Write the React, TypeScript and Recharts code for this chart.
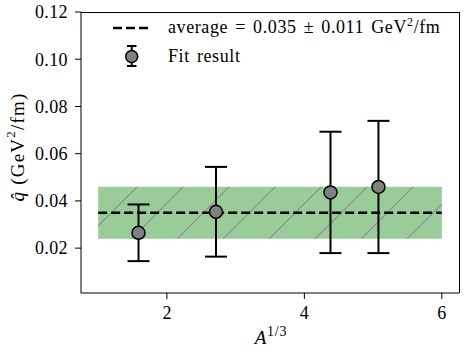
import React from "react";
import {
  ComposedChart,
  Scatter,
  ErrorBar,
  XAxis,
  YAxis,
  ReferenceArea,
  ReferenceLine,
  Legend,
} from "recharts";

// values
const cubeRootA = [1.587, 2.714, 4.38, 5.078];
const qhatFit = [0.0265, 0.0354, 0.0436, 0.0459];
const qhatErr = [0.012, 0.019, 0.0257, 0.028];

const averageQhat = 0.035;
const averageErr = 0.011;
const bandRange = [1, 6];

const xDomain = [0.75, 6.25];
const yDomain = [0.001, 0.12];
const xTicks = [2, 4, 6];
const yTicks = [0.02, 0.04, 0.06, 0.08, 0.1, 0.12];

const points = cubeRootA.map((x, i) => ({ x, y: qhatFit[i], err: qhatErr[i] }));

const FONT = "Times New Roman, Liberation Serif, serif";
const W = 471;
const H = 354;
const MARGIN = { top: 12, right: 12, left: 0, bottom: 0 };
const Y_AXIS_W = 81;
const X_AXIS_H = 61;

const Marker = (props: any) => {
  const { cx, cy } = props;
  if (cx == null || cy == null) return null;
  return <circle cx={cx} cy={cy} r={6.5} fill="#808080" stroke="#000" strokeWidth={1.5} />;
};

const XTick = ({ x, y, payload }: any) => (
  <text x={x} y={y} dy="0.71em" textAnchor="middle" fontFamily={FONT} fontSize={18} fill="#000">
    {payload.value}
  </text>
);

const YTick = ({ x, y, payload }: any) => (
  <text x={x} y={y} dy="0.35em" textAnchor="end" fontFamily={FONT} fontSize={18} fill="#000" letterSpacing={0.4}>
    {Number(payload.value).toFixed(2)}
  </text>
);

const LegendContent = () => (
  <div
    style={{
      position: "relative",
      width: 360,
      height: 70,
      fontFamily: FONT,
      fontSize: 18,
      color: "#000",
      letterSpacing: "0.6px",
      wordSpacing: "2px",
    }}
  >
    <svg width={50} height={60} style={{ position: "absolute", left: 10, top: 0 }}>
      <line x1={3} x2={41} y1={16} y2={16} stroke="#000" strokeWidth={2.5} strokeDasharray="9 4" />
      <line x1={21.7} x2={21.7} y1={34} y2={54} stroke="#000" strokeWidth={2} />
      <line x1={17} x2={26.5} y1={34} y2={34} stroke="#000" strokeWidth={2} />
      <line x1={17} x2={26.5} y1={54} y2={54} stroke="#000" strokeWidth={2} />
      <circle cx={21.7} cy={44.5} r={6} fill="#808080" stroke="#000" strokeWidth={1.5} />
    </svg>
    <div style={{ position: "absolute", left: 68, top: 6, whiteSpace: "nowrap", lineHeight: "18px" }}>
      average = 0.035 ± 0.011 GeV<sup style={{ fontSize: 12, verticalAlign: "7px", lineHeight: 0 }}>2</sup>/fm
    </div>
    <div style={{ position: "absolute", left: 68, top: 35, whiteSpace: "nowrap", lineHeight: "18px" }}>
      Fit result
    </div>
  </div>
);

const YLabel = () => (
  <text
    x={17}
    y={147}
    transform="rotate(-90, 17, 147)"
    textAnchor="middle"
    dominantBaseline="central"
    fontFamily={FONT}
    fontSize={19}
    letterSpacing={1.2}
    fill="#000"
  >
    <tspan fontStyle="italic">q̂</tspan>
    <tspan> (GeV</tspan>
    <tspan fontSize={13} dy={-7}>2</tspan>
    <tspan dy={7}>/fm)</tspan>
  </text>
);

const XLabel = () => (
  <text x={271} y={344} textAnchor="middle" fontFamily={FONT} fontSize={19} fill="#000" letterSpacing={0.8}>
    <tspan fontStyle="italic">A</tspan>
    <tspan fontSize={14} dy={-8}>1/3</tspan>
  </text>
);

export default function App() {
  // top/right spines of the axes box, from the same layout numbers as the chart
  const plotLeft = MARGIN.left + Y_AXIS_W;
  const plotTop = MARGIN.top;
  const plotW = W - MARGIN.right - plotLeft;
  const plotH = H - MARGIN.bottom - X_AXIS_H - plotTop;

  return (
    <div style={{ position: "absolute", left: 0, top: 0, width: W, height: H, background: "#fff" }}>
      <ComposedChart width={W} height={H} margin={MARGIN}>
        <defs>
          <pattern
            id="hatch"
            patternUnits="userSpaceOnUse"
            width={46}
            height={46}
            patternTransform="translate(2,0)"
          >
            <path d="M-4,4 L4,-4 M0,46 L46,0 M42,50 L50,42" stroke="#8c8c8c" strokeWidth={1.2} />
          </pattern>
        </defs>
        <XAxis
          type="number"
          dataKey="x"
          domain={xDomain}
          ticks={xTicks}
          allowDataOverflow
          height={X_AXIS_H}
          tickSize={6}
          tickMargin={7}
          stroke="#000"
          tick={<XTick />}
        />
        <YAxis
          type="number"
          dataKey="y"
          domain={yDomain}
          ticks={yTicks}
          allowDataOverflow
          width={Y_AXIS_W}
          tickSize={6}
          tickMargin={7}
          stroke="#000"
          tick={<YTick />}
        />
        <ReferenceArea
          x1={bandRange[0]}
          x2={bandRange[1]}
          y1={averageQhat - averageErr}
          y2={averageQhat + averageErr}
          fill="#99cc99"
          fillOpacity={1}
          stroke="none"
        />
        <ReferenceArea
          x1={bandRange[0]}
          x2={bandRange[1]}
          y1={averageQhat - averageErr}
          y2={averageQhat + averageErr}
          fill="url(#hatch)"
          fillOpacity={1}
          stroke="none"
        />
        <ReferenceLine
          segment={[
            { x: bandRange[0], y: averageQhat },
            { x: bandRange[1], y: averageQhat },
          ]}
          stroke="#000"
          strokeWidth={2.5}
          strokeDasharray="9 4"
        />
        <Scatter data={points} dataKey="y" shape={<Marker />} isAnimationActive={false}>
          <ErrorBar dataKey="err" direction="y" width={11} stroke="#000" strokeWidth={2} />
        </Scatter>
        <Legend
          layout="vertical"
          align="center"
          verticalAlign="middle"
          content={<LegendContent />}
          wrapperStyle={{ left: 100, top: 12, width: 360, height: 70 }}
        />
        <YLabel />
        <XLabel />
      </ComposedChart>
      <div
        style={{
          position: "absolute",
          left: plotLeft,
          top: plotTop,
          width: plotW + 1,
          height: plotH,
          boxSizing: "border-box",
          borderTop: "1px solid #000",
          borderRight: "1px solid #000",
          pointerEvents: "none",
        }}
      />
    </div>
  );
}
